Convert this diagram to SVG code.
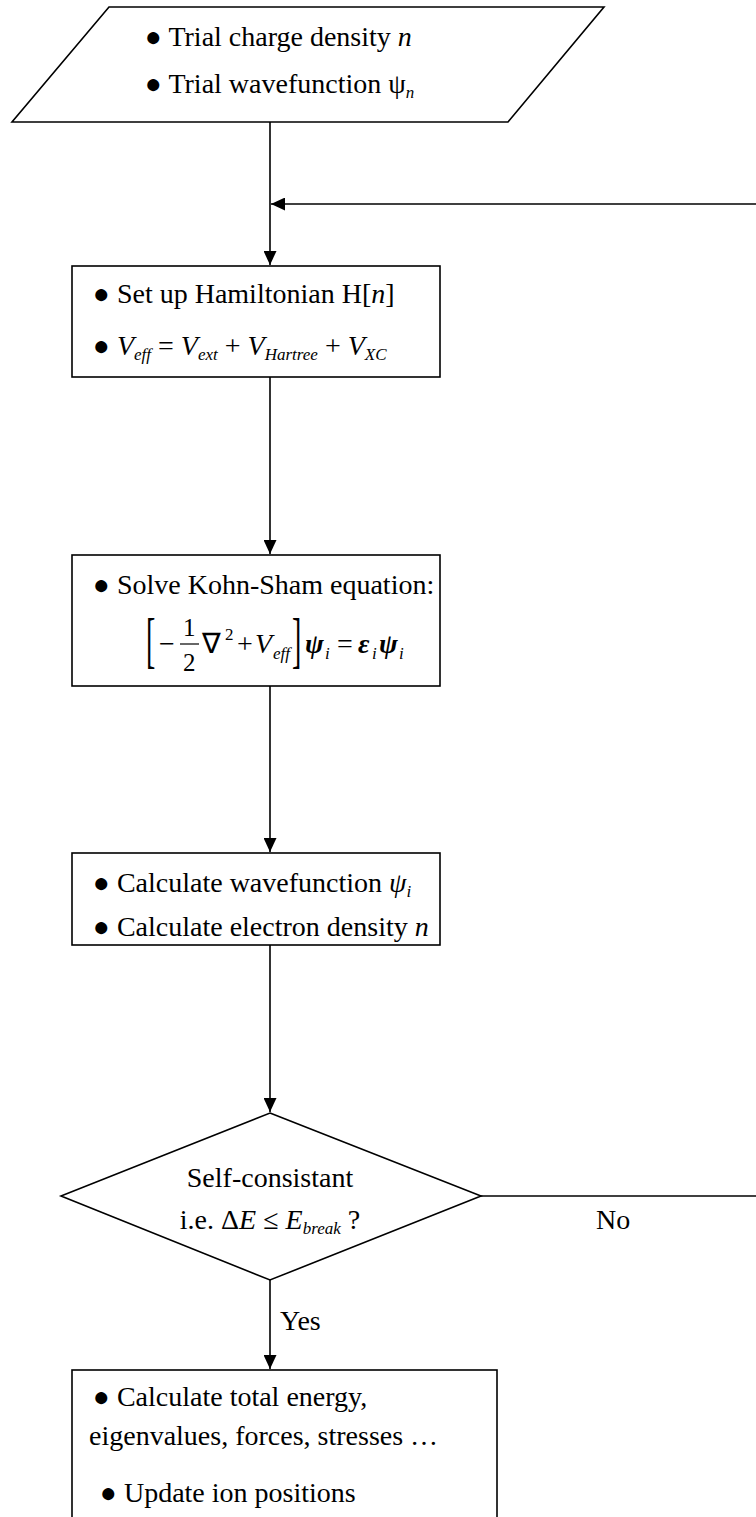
<svg xmlns="http://www.w3.org/2000/svg" width="756" height="1517" viewBox="0 0 756 1517">
<style>
.s{fill:#fff;stroke:#000;stroke-width:1.6}
.t{font-family:"Liberation Serif","Times New Roman",serif;font-size:28px;fill:#000}
.i{font-style:italic}
.sub{font-size:17px;font-style:italic}
.sup{font-size:17px}
.fr{font-size:25px}
.sym{font-style:italic;font-weight:bold}
.c{stroke:#000;stroke-width:1.6;fill:none}
</style>
<defs>
<marker id="ah" markerWidth="14" markerHeight="13" refX="14" refY="6.5" orient="auto" markerUnits="userSpaceOnUse">
<path d="M0,0 L14,6.5 L0,13 Z" fill="#000"/>
</marker>
</defs>
<rect width="756" height="1517" fill="#fff"/>
<g id="connectors">
<line class="c" x1="270" y1="122" x2="270" y2="265" marker-end="url(#ah)"/>
<line class="c" x1="756" y1="204" x2="271" y2="204" marker-end="url(#ah)"/>
<line class="c" x1="270" y1="377" x2="270" y2="554" marker-end="url(#ah)"/>
<line class="c" x1="270" y1="686" x2="270" y2="852" marker-end="url(#ah)"/>
<line class="c" x1="270" y1="945" x2="270" y2="1112" marker-end="url(#ah)"/>
<line class="c" x1="270" y1="1280" x2="270" y2="1369" marker-end="url(#ah)"/>
<line class="c" x1="481" y1="1196" x2="756" y2="1196"/>
<text class="t" x="596" y="1229">No</text>
<text class="t" x="280" y="1330">Yes</text>
</g>
<g id="start">
<polygon class="s" points="109,7 604,7 508,122 12,122"/>
<text class="t" x="145" y="46">● Trial charge density <tspan class="i">n</tspan></text>
<text class="t" x="145" y="93">● Trial wavefunction ψ<tspan class="sub" dy="5">n</tspan></text>
</g>
<g id="hamiltonian">
<rect class="s" x="72" y="266" width="368" height="111"/>
<text class="t" x="93" y="303">● Set up Hamiltonian H[<tspan class="i">n</tspan>]</text>
<text class="t" x="93" y="355">● <tspan class="i">V</tspan><tspan class="sub" dy="5">eff</tspan><tspan dy="-5"> = </tspan><tspan class="i">V</tspan><tspan class="sub" dy="5">ext</tspan><tspan dy="-5"> + </tspan><tspan class="i">V</tspan><tspan class="sub" dy="5">Hartree</tspan><tspan dy="-5"> + </tspan><tspan class="i">V</tspan><tspan class="sub" dy="5">XC</tspan></text>
</g>
<g id="kohnsham">
<rect class="s" x="72" y="555" width="368" height="131"/>
<text class="t" x="93" y="594">● Solve Kohn-Sham equation:</text>
<text class="t" x="146" y="300.5" transform="scale(1,2.2)">[</text>
<text class="t" x="159" y="653">−</text>
<text class="t fr" x="183" y="636">1</text>
<line x1="180" y1="644" x2="199" y2="644" stroke="#000" stroke-width="1.2"/>
<text class="t fr" x="183" y="671">2</text>
<text class="t" x="202" y="653">∇</text>
<text class="t sup" x="225" y="640">2</text>
<text class="t" x="237" y="653">+</text>
<text class="t i" x="255" y="653">V</text>
<text class="t sub" x="273" y="659">eff</text>
<text class="t" x="292" y="300.5" transform="scale(1,2.2)">]</text>
<text class="t sym" x="305" y="653">ψ</text>
<text class="t sub" x="325" y="659">i</text>
<text class="t" x="337" y="653">=</text>
<text class="t sym" x="358" y="653">ε</text>
<text class="t sub" x="372" y="659">i</text>
<text class="t sym" x="379" y="653">ψ</text>
<text class="t sub" x="399" y="659">i</text>
</g>
<g id="calculate">
<rect class="s" x="72" y="853" width="368" height="92"/>
<text class="t" x="93" y="892">● Calculate wavefunction <tspan class="i">ψ</tspan><tspan class="sub" dy="5">i</tspan></text>
<text class="t" x="93" y="936">● Calculate electron density <tspan class="i">n</tspan></text>
</g>
<g id="decision">
<polygon class="s" points="270,1113 481,1196 270,1280 61,1196"/>
<text class="t" x="270" y="1187" text-anchor="middle">Self-consistant</text>
<text class="t" x="270" y="1229" text-anchor="middle">i.e.  Δ<tspan class="i">E</tspan> ≤ <tspan class="i">E</tspan><tspan class="sub" dy="5">break</tspan><tspan dy="-5"> ?</tspan></text>
</g>
<g id="final">
<rect class="s" x="72" y="1370" width="425" height="160"/>
<text class="t" x="93" y="1406">● Calculate total energy,</text>
<text class="t" x="89" y="1445">eigenvalues, forces, stresses …</text>
<text class="t" x="100" y="1502">● Update ion positions</text>
</g>
</svg>
